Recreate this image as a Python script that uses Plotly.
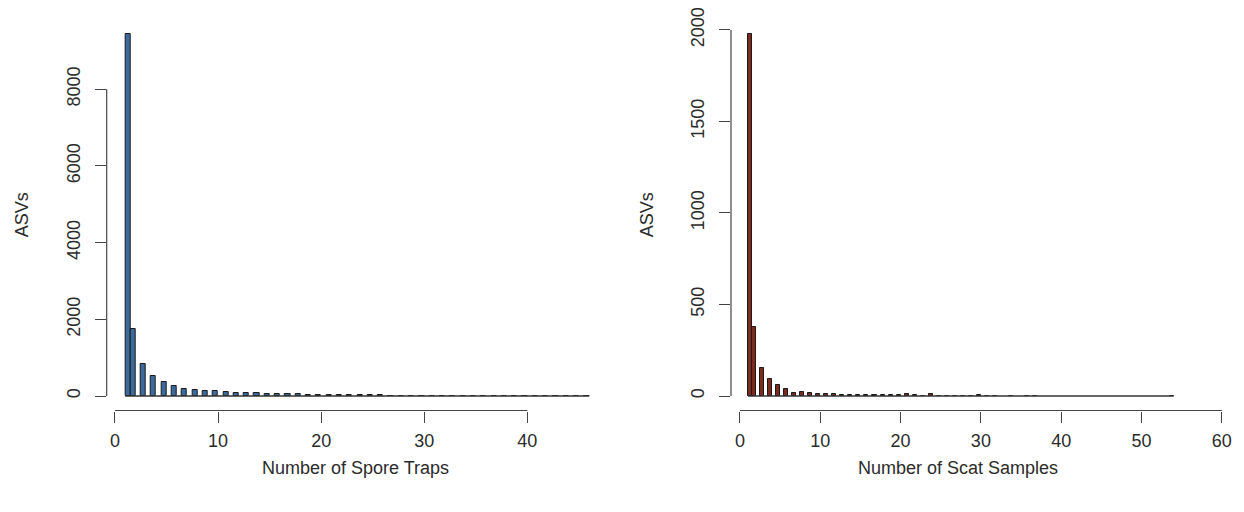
import numpy as np
import plotly.graph_objects as go

# ASV prevalence: number of ASVs found in exactly n samples
spore_traps = list(range(1, 47))
spore_asvs = [9430, 1750, 835, 530, 358, 270, 175, 150, 130, 128,
              96, 88, 86, 78, 62, 52, 45, 44, 40, 36,
              30, 26, 24, 20, 18, 16, 14, 12, 10, 9,
              7, 6, 5, 5, 4, 5, 3, 3, 2, 3,
              2, 1, 1, 1, 1, 2]

scat_samples = list(range(1, 55))
scat_asvs = [1975, 378, 155, 94, 60, 36, 18, 24, 18, 13,
             13, 9, 8, 7, 6, 7, 5, 4, 4, 3,
             12, 3, 2, 10, 2, 1, 1, 1, 1, 3,
             1, 1, 0, 1, 0, 1, 2, 0, 0, 0,
             0, 0, 0, 0, 0, 0, 0, 0, 0, 0,
             0, 0, 0, 1]

left_xticks = [0, 10, 20, 30, 40]
left_yticks = [0, 2000, 4000, 6000, 8000]
right_xticks = [0, 10, 20, 30, 40, 50, 60]
right_yticks = [0, 500, 1000, 1500, 2000]

W, H = 1244, 512
BIN = 0.5      # histogram bin width
EXT = 0.04     # axis range padding on each side
FONT = "Liberation Sans, Arial, Helvetica, sans-serif"
TXT = "#2b2b2b"
AX = "#444444"
TOP, BOTTOM = 20.0, 410.5   # plot region rows in pixels


def bins(counts):
    """Histogram bins of width 0.5 starting at the minimum; integer n falls in (n-0.5, n]."""
    n = np.asarray(counts, dtype=float)
    left = np.where(n == n.min(), n, n - BIN)
    return left + BIN / 2, left


def padded(lo, hi):
    d = hi - lo
    return [lo - EXT * d, hi + EXT * d]


fig = go.Figure()

# left: pixel column of the plot region's left edge; sx: pixels per unit on x
panels = [
    dict(x=spore_traps, y=spore_asvs, color="#3b6b9c", xa="x", ya="y",
         xt=left_xticks, yt=left_yticks, title="Number of Spore Traps",
         left=106.7, sx=10.31, title_x=355, ylab_x=22),
    dict(x=scat_samples, y=scat_asvs, color="#7d2a1f", xa="x2", ya="y2",
         xt=right_xticks, yt=right_yticks, title="Number of Scat Samples",
         left=731.0, sx=8.03, title_x=958, ylab_x=647),
]

for i, p in enumerate(panels):
    centers, lefts = bins(p["x"])
    lo = lefts.min()
    hi = max(p["x"])
    yv = np.asarray(p["y"], dtype=float)
    xr = padded(lo, hi)
    xr[1] = max(xr[1], p["xt"][-1] + 1)   # room for the last tick
    yr = padded(0, yv.max())

    # zero line spanning all (including empty) bins
    fig.add_trace(go.Scatter(x=[lo, hi], y=[0, 0], mode="lines",
                             line=dict(color="#333333", width=1.6),
                             xaxis=p["xa"], yaxis=p["ya"], hoverinfo="skip",
                             showlegend=False))
    mask = yv > 0
    fig.add_trace(go.Bar(x=centers[mask], y=yv[mask], width=BIN,
                         marker=dict(color=p["color"],
                                     line=dict(color="#1a1a1a", width=1)),
                         xaxis=p["xa"], yaxis=p["ya"], showlegend=False))

    right = p["left"] + (xr[1] - xr[0]) * p["sx"]
    dom_x = [p["left"] / W, right / W]
    dom_y = [1 - BOTTOM / H, 1 - TOP / H]
    sfx = "" if i == 0 else "2"
    common = dict(ticks="outside", ticklen=11, tickwidth=1.2, tickcolor=AX,
                  showgrid=False, zeroline=False, showline=False,
                  automargin=False,
                  tickfont=dict(size=18, color=TXT, family=FONT))
    fig.update_layout(**{
        "xaxis" + sfx: dict(domain=dom_x, range=xr, anchor="y" + sfx,
                            tickvals=p["xt"], ticklabelstandoff=3, **common),
        "yaxis" + sfx: dict(domain=dom_y, range=yr, anchor="x" + sfx,
                            tickvals=p["yt"], tickangle=-90,
                            ticklabelstandoff=8, **common),
    })
    # axis lines that span only the first to last tick
    fig.add_shape(type="line", xref=p["xa"], yref="paper",
                  x0=p["xt"][0], x1=p["xt"][-1], y0=dom_y[0], y1=dom_y[0],
                  line=dict(color=AX, width=1.2))
    fig.add_shape(type="line", xref="paper", yref=p["ya"],
                  x0=dom_x[0], x1=dom_x[0], y0=p["yt"][0], y1=p["yt"][-1],
                  line=dict(color=AX, width=1.2))
    # axis titles
    fig.add_annotation(text=p["title"], xref="paper", yref="paper",
                       x=p["title_x"] / W, y=1 - 468 / H, showarrow=False,
                       xanchor="center", yanchor="middle",
                       font=dict(size=18, color=TXT, family=FONT))
    fig.add_annotation(text="ASVs", xref="paper", yref="paper",
                       x=p["ylab_x"] / W, y=sum(dom_y) / 2, textangle=-90,
                       showarrow=False, xanchor="center", yanchor="middle",
                       font=dict(size=18, color=TXT, family=FONT))

fig.update_layout(width=W, height=H, margin=dict(l=0, r=0, t=0, b=0),
                  paper_bgcolor="white", plot_bgcolor="white",
                  bargap=0, showlegend=False)

fig.write_html("out.html")
